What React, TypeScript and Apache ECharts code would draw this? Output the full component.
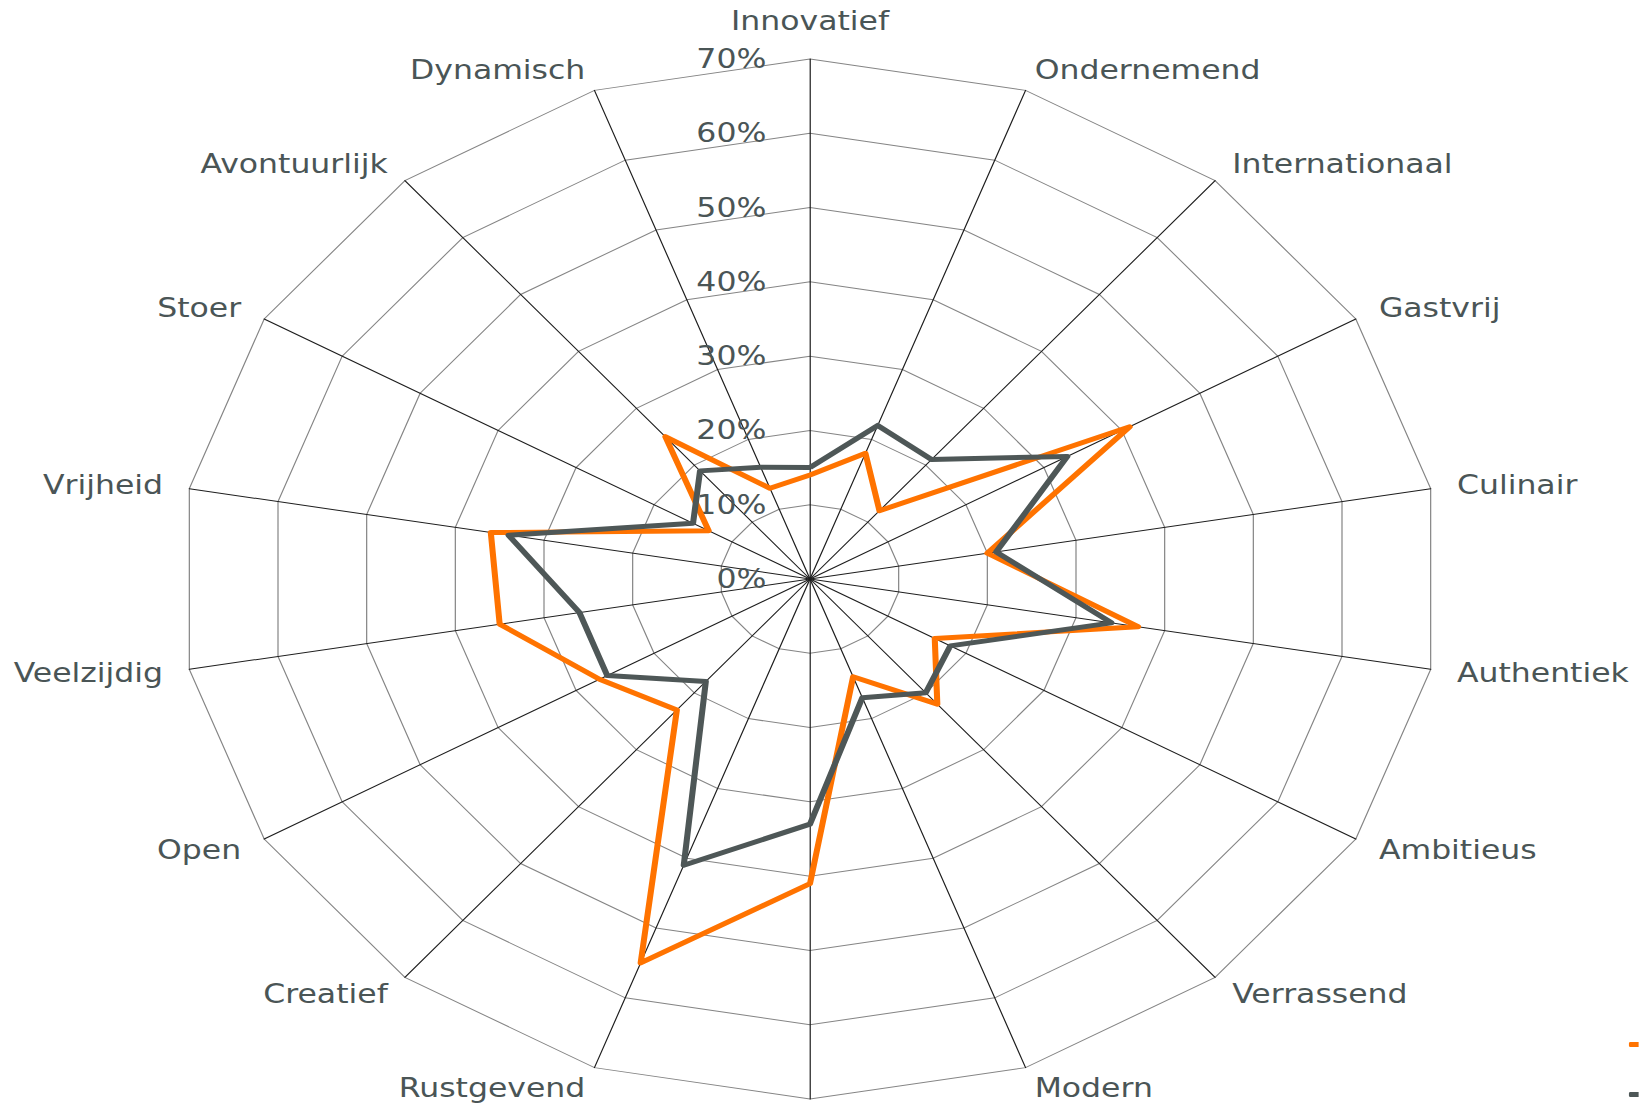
import React, { useEffect, useRef } from 'react';
import * as echarts from 'echarts';

// Picture size and the horizontal stretch of the original chart
const WIDTH = 1639;
const HEIGHT = 1111;
const SCALE_X = 1.212;

// Axes, clockwise from the top
const categories = [
  'Innovatief', 'Ondernemend', 'Internationaal', 'Gastvrij', 'Culinair', 'Authentiek',
  'Ambitieus', 'Verrassend', 'Modern', '', 'Rustgevend', 'Creatief', 'Open',
  'Veelzijdig', 'Vrijheid', 'Stoer', 'Avontuurlijk', 'Dynamisch',
];
const orangeValues = [14, 18, 12, 41, 20, 37, 16, 22, 14, 41, 55, 23, 27, 35, 36, 13, 25, 13];
const grayValues = [15, 22, 21, 33, 21, 34, 18, 20, 17, 33, 41, 18, 26, 26, 34, 15, 19, 16];
const seriesNames = ['Reeks 1', 'Reeks 2'];
const axisMin = 0;
const axisMax = 70;
const axisSplits = 7;

const ORANGE = '#FF7300';
const GRAY = '#4E5757';
const TEXT = '#4A5556';
const FONT = 'DejaVu Sans';

export default function App() {
  const ref = useRef<HTMLDivElement>(null);

  useEffect(() => {
    if (!ref.current) return;
    const chart = echarts.init(ref.current, undefined, { renderer: 'svg' });

    // ECharts places radar indicators counter-clockwise; reorder so they run clockwise
    const order = [0, ...categories.map((_, i) => i).slice(1).reverse()];
    const indicator = order.map((i, k) => {
      const base: any = { name: categories[i], min: axisMin, max: axisMax };
      if (k === 0) {
        base.nameGap = 25;
        base.axisLabel = {
          show: true,
          formatter: '{value}%',
          color: TEXT,
          fontSize: 26,
          fontFamily: FONT,
          margin: 36,
          padding: [4, 0, 0, 0],
        };
      }
      return base;
    });

    const legendBase = {
      orient: 'vertical',
      left: 1344,
      padding: 0,
      itemWidth: 30,
      itemHeight: 5,
      icon: 'roundRect',
      formatter: () => '',
      textStyle: { color: TEXT, fontSize: 26, fontFamily: FONT },
    };

    chart.setOption({
      animation: false,
      backgroundColor: '#ffffff',
      legend: [
        { ...legendBase, top: 1042, data: [seriesNames[0]] },
        { ...legendBase, top: 1092, data: [seriesNames[1]] },
      ],
      radar: {
        center: [810 / SCALE_X, 579],
        radius: 520,
        startAngle: 90,
        splitNumber: axisSplits,
        shape: 'polygon',
        nameGap: 22,
        axisName: { color: TEXT, fontSize: 26, fontFamily: FONT },
        splitLine: { lineStyle: { color: '#858585', width: 1 } },
        splitArea: { show: false },
        axisLine: { lineStyle: { color: '#1e1e1e', width: 1 } },
        axisTick: { show: false },
        axisLabel: { show: false },
        indicator,
      },
      series: [
        {
          type: 'radar',
          symbol: 'none',
          data: [
            {
              name: seriesNames[0],
              value: order.map((i) => orangeValues[i]),
              lineStyle: { color: ORANGE, width: 5 },
              itemStyle: { color: ORANGE },
            },
            {
              name: seriesNames[1],
              value: order.map((i) => grayValues[i]),
              lineStyle: { color: GRAY, width: 5 },
              itemStyle: { color: GRAY },
            },
          ],
        },
      ],
    });

    return () => chart.dispose();
  }, []);

  return (
    <div
      style={{
        position: 'fixed',
        left: 0,
        top: 0,
        width: WIDTH,
        height: HEIGHT,
        overflow: 'hidden',
        background: '#fff',
      }}
    >
      <div
        ref={ref}
        style={{
          width: WIDTH / SCALE_X,
          height: HEIGHT,
          transform: `scaleX(${SCALE_X})`,
          transformOrigin: '0 0',
        }}
      />
    </div>
  );
}
